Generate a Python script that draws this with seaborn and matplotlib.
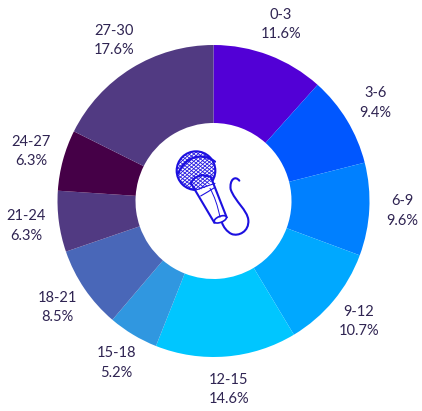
import numpy as np
import matplotlib
matplotlib.use("Agg")
import matplotlib.pyplot as plt
from matplotlib.patches import Circle, Ellipse, PathPatch, Polygon
from matplotlib.path import Path
import seaborn as sns

# =============================
# Data
# =============================
age_bins = ["0-3", "3-6", "6-9", "9-12", "12-15", "15-18", "18-21", "21-24", "24-27", "27-30"]
shares = [11.6, 9.4, 9.6, 10.7, 14.6, 5.2, 8.5, 6.3, 6.3, 17.6]
slice_colors = ["#5200D6", "#0057FF", "#0080FF", "#00A8FF", "#00C6FF",
                "#3097E0", "#4967B8", "#513A82", "#450047", "#513A82"]

TEXT_COLOR = "#2F2452"
ICON_COLOR = "#1C10E0"

# =============================
# Plot style
# =============================
sns.set_theme(style="white")
plt.rcParams["font.family"] = ["Lato", "DejaVu Sans"]

W, H = 422, 411
fig = plt.figure(figsize=(W / 100, H / 100), dpi=100)
ax = fig.add_axes([0, 0, 1, 1])

# axes units are pixels, y up
CX, CY = 213.5, H - 201
R_OUT, R_IN = 156, 78

labels = [f"{b}\n{s}%" for b, s in zip(age_bins, shares)]
wedges, texts = ax.pie(
    shares,
    labels=labels,
    colors=sns.color_palette(slice_colors),
    startangle=90,
    counterclock=False,
    radius=R_OUT,
    center=(CX, CY),
    labeldistance=189 / R_OUT,
    wedgeprops=dict(width=R_OUT - R_IN, linewidth=0),
    textprops=dict(color=TEXT_COLOR, fontsize=10.5, ha="center", va="center", linespacing=1.5),
)
ax.set_xlim(0, W)
ax.set_ylim(0, H)
ax.set_aspect("equal")


# =============================
# Microphone icon
# =============================
def p(x, y):
    return 160 + x / 3, H - (130 + y / 3)


def stroke(verts, codes, lw=1.4):
    ax.add_patch(PathPatch(Path([p(*v) for v in verts], codes), fill=False,
                           edgecolor=ICON_COLOR, linewidth=lw, capstyle="round"))


# head + mesh
head = Circle(p(108, 122), 58 / 3, facecolor="white", edgecolor=ICON_COLOR, linewidth=1.5)
ax.add_patch(head)
for off in np.arange(-70, 71, 11):
    for slope in (0.75, -0.9):
        xs = np.array([40, 180])
        ys = 125 + off + slope * (xs - 108)
        line, = ax.plot(*zip(p(xs[0], ys[0]), p(xs[1], ys[1])), color=ICON_COLOR, linewidth=0.6)
        line.set_clip_path(head)

# band across the head
stroke([(55, 130), (75, 80), (125, 65), (165, 95)],
       [Path.MOVETO, Path.CURVE4, Path.CURVE4, Path.CURVE4], lw=1.6)

# handle
ax.add_patch(Polygon([p(92, 158), p(105, 143), p(125, 135), p(152, 140), p(200, 262), p(163, 278)],
                     closed=True, facecolor="white", edgecolor=ICON_COLOR, linewidth=1.5))
ax.add_patch(Ellipse(p(181, 268), 13, 6, angle=22, facecolor="white",
                     edgecolor=ICON_COLOR, linewidth=1.2))
stroke([(108, 180), (135, 170), (165, 160)], [Path.MOVETO, Path.CURVE3, Path.CURVE3], lw=0.8)
stroke([(122, 198), (145, 185), (165, 172)], [Path.MOVETO, Path.CURVE3, Path.CURVE3], lw=0.8)
stroke([(150, 175), (170, 210), (180, 262)], [Path.MOVETO, Path.CURVE3, Path.CURVE3], lw=0.7)

# cable
stroke([(238, 152), (225, 135), (208, 150), (212, 178),
        (225, 215), (262, 240), (265, 270),
        (268, 305), (235, 320), (215, 312),
        (200, 305), (190, 290), (186, 278)],
       [Path.MOVETO] + [Path.CURVE4] * 12, lw=1.5)

fig.savefig("out.png", dpi=100)
plt.close(fig)
